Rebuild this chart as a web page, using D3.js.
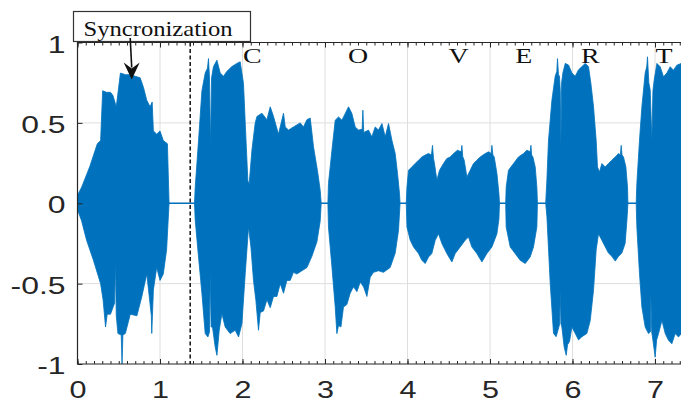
<!DOCTYPE html>
<html>
<head>
<meta charset="utf-8">
<script src="https://cdn.jsdelivr.net/npm/d3@7"></script>
<style>
  body { margin: 0; background: #fff; }
  svg { display: block; }
</style>
</head>
<body>
<svg id="chart" width="681" height="403"></svg>
<script>
var syncHi = [[0,0.05],[0.05,0.10],[0.15,0.23],[0.24,0.37],[0.28,0.39],[0.305,0.70],[0.35,0.69],[0.40,0.69],[0.43,0.67],[0.47,0.60],[0.52,0.81],[0.58,0.80],[0.64,0.80],[0.70,0.79],[0.76,0.78],[0.80,0.72],[0.84,0.64],[0.88,0.60],[0.905,0.63],[0.92,0.45],[0.96,0.43],[1.00,0.45],[1.04,0.39],[1.09,0.37],[1.11,0]];
var syncLo = [[0,-0.04],[0.05,-0.11],[0.11,-0.23],[0.19,-0.35],[0.28,-0.50],[0.31,-0.60],[0.34,-0.77],[0.36,-0.69],[0.40,-0.69],[0.45,-0.62],[0.46,-0.35],[0.47,-0.70],[0.49,-0.81],[0.53,-0.82],[0.54,-1.0],[0.55,-0.82],[0.58,-0.81],[0.64,-0.69],[0.72,-0.70],[0.78,-0.58],[0.84,-0.44],[0.895,-0.70],[0.90,-0.81],[0.92,-0.54],[0.96,-0.40],[1.00,-0.48],[1.04,-0.44],[1.08,-0.29],[1.11,0]];

var cHi = [[1.418,0],[1.427,0.10],[1.467,0.39],[1.508,0.70],[1.548,0.81],[1.575,0.84],[1.588,0.90],[1.60,0.78],[1.612,0.35],[1.625,0.78],[1.648,0.85],[1.69,0.89],[1.73,0.81],[1.77,0.79],[1.81,0.82],[1.871,0.85],[1.932,0.87],[1.972,0.88],[2.012,0.745],[2.033,0.50],[2.065,0.14],[2.081,0.12],[2.114,0.33],[2.154,0.50],[2.175,0.54],[2.235,0.56],[2.296,0.52],[2.336,0.60],[2.376,0.54],[2.436,0.43],[2.497,0.56],[2.518,0.475],[2.558,0.455],[2.618,0.475],[2.699,0.50],[2.739,0.475],[2.781,0.52],[2.821,0.53],[2.861,0.35],[2.914,0.185],[2.942,0.08],[2.954,0]];
var cLo = [[1.418,0],[1.427,-0.106],[1.467,-0.334],[1.508,-0.562],[1.548,-0.811],[1.581,-0.832],[1.600,-0.80],[1.608,-0.438],[1.62,-0.77],[1.636,-0.77],[1.669,-0.895],[1.69,-0.946],[1.718,-0.79],[1.75,-0.687],[1.79,-0.77],[1.85,-0.811],[1.911,-0.79],[1.952,-0.832],[1.993,-0.749],[2.033,-0.438],[2.073,-0.148],[2.102,-0.272],[2.133,-0.479],[2.162,-0.604],[2.194,-0.79],[2.215,-0.68],[2.255,-0.67],[2.296,-0.60],[2.336,-0.65],[2.376,-0.58],[2.417,-0.58],[2.457,-0.50],[2.497,-0.56],[2.538,-0.48],[2.578,-0.48],[2.618,-0.43],[2.659,-0.44],[2.72,-0.42],[2.781,-0.40],[2.841,-0.33],[2.902,-0.24],[2.942,-0.11],[2.954,0]];

var oHi = [[3.035,0],[3.042,0.123],[3.084,0.33],[3.124,0.517],[3.164,0.537],[3.205,0.517],[3.245,0.558],[3.285,0.60],[3.326,0.558],[3.366,0.475],[3.406,0.455],[3.45,0.46],[3.459,0.579],[3.47,0.44],[3.527,0.455],[3.568,0.413],[3.608,0.475],[3.648,0.455],[3.69,0.496],[3.73,0.413],[3.77,0.496],[3.811,0.392],[3.851,0.309],[3.879,0.185],[3.903,0.06],[3.91,0]];
var oLo = [[3.035,0],[3.042,-0.148],[3.084,-0.396],[3.124,-0.646],[3.144,-0.811],[3.164,-0.76],[3.193,-0.77],[3.224,-0.646],[3.265,-0.63],[3.305,-0.56],[3.345,-0.52],[3.387,-0.55],[3.427,-0.49],[3.467,-0.52],[3.508,-0.58],[3.548,-0.46],[3.588,-0.43],[3.648,-0.42],[3.709,-0.43],[3.79,-0.40],[3.851,-0.31],[3.891,-0.17],[3.91,0]];

var vHi = [[3.985,0],[3.993,0.10],[4.012,0.205],[4.053,0.226],[4.093,0.247],[4.134,0.268],[4.174,0.288],[4.215,0.30],[4.255,0.31],[4.29,0.30],[4.303,0.36],[4.315,0.28],[4.327,0.247],[4.356,0.143],[4.388,0.205],[4.436,0.247],[4.477,0.278],[4.518,0.288],[4.558,0.309],[4.606,0.33],[4.65,0.32],[4.659,0.36],[4.67,0.29],[4.687,0.268],[4.72,0.164],[4.76,0.205],[4.80,0.247],[4.841,0.268],[4.881,0.288],[4.942,0.309],[4.982,0.32],[5.015,0.31],[5.023,0.36],[5.035,0.30],[5.051,0.288],[5.084,0.185],[5.108,0.06],[5.115,0]];
var vLo = [[3.985,0],[3.993,-0.148],[4.033,-0.23],[4.073,-0.272],[4.134,-0.313],[4.174,-0.355],[4.215,-0.375],[4.255,-0.334],[4.295,-0.313],[4.336,-0.23],[4.376,-0.19],[4.417,-0.251],[4.477,-0.313],[4.538,-0.365],[4.578,-0.313],[4.639,-0.272],[4.699,-0.23],[4.739,-0.21],[4.78,-0.272],[4.841,-0.313],[4.902,-0.365],[4.962,-0.313],[5.023,-0.272],[5.084,-0.19],[5.108,-0.1],[5.115,0]];

var eHi = [[5.19,0],[5.196,0.10],[5.224,0.205],[5.285,0.247],[5.345,0.288],[5.406,0.309],[5.447,0.33],[5.487,0.32],[5.496,0.36],[5.505,0.30],[5.52,0.288],[5.548,0.226],[5.568,0.10],[5.575,0]];
var eLo = [[5.19,0],[5.196,-0.148],[5.245,-0.272],[5.305,-0.313],[5.366,-0.355],[5.427,-0.375],[5.487,-0.334],[5.527,-0.272],[5.568,-0.148],[5.575,0]];

var rHi = [[5.675,0],[5.69,0.15],[5.709,0.39],[5.75,0.64],[5.79,0.79],[5.81,0.82],[5.818,0.90],[5.83,0.80],[5.842,0.79],[5.852,0.70],[5.859,0.35],[5.868,0.75],[5.883,0.81],[5.912,0.87],[5.952,0.86],[5.993,0.81],[6.033,0.79],[6.073,0.83],[6.114,0.85],[6.154,0.87],[6.194,0.85],[6.223,0.745],[6.255,0.60],[6.287,0.39],[6.303,0.226],[6.327,0.195],[6.356,0.247],[6.396,0.226],[6.436,0.247],[6.477,0.268],[6.518,0.288],[6.558,0.309],[6.58,0.30],[6.59,0.36],[6.60,0.30],[6.618,0.288],[6.647,0.226],[6.667,0.10],[6.672,0]];
var rLo = [[5.675,0],[5.69,-0.085],[5.73,-0.50],[5.77,-0.81],[5.802,-0.83],[5.845,-0.75],[5.851,-0.54],[5.86,-0.75],[5.871,-0.77],[5.899,-0.895],[5.924,-0.946],[5.94,-0.88],[5.964,-0.86],[5.993,-0.77],[6.033,-0.81],[6.073,-0.85],[6.114,-0.83],[6.174,-0.81],[6.215,-0.73],[6.255,-0.54],[6.287,-0.29],[6.315,-0.19],[6.356,-0.23],[6.396,-0.27],[6.436,-0.31],[6.477,-0.33],[6.518,-0.36],[6.558,-0.33],[6.598,-0.31],[6.638,-0.25],[6.659,-0.11],[6.672,0]];

var tHi = [[6.772,0],[6.78,0.123],[6.812,0.392],[6.841,0.60],[6.881,0.81],[6.90,0.85],[6.909,0.911],[6.925,0.75],[6.942,0.704],[6.955,0.50],[6.962,0.392],[6.975,0.70],[6.99,0.766],[7.023,0.87],[7.063,0.849],[7.103,0.787],[7.144,0.81],[7.184,0.849],[7.224,0.828],[7.265,0.859],[7.318,0.87],[7.4,0.85],[7.5,0.86]];
var tLo = [[6.772,0],[6.78,-0.148],[6.812,-0.438],[6.841,-0.646],[6.881,-0.77],[6.921,-0.811],[6.945,-0.80],[6.95,-0.562],[6.96,-0.80],[6.975,-0.853],[7.002,-0.957],[7.02,-0.85],[7.043,-0.811],[7.084,-0.729],[7.124,-0.811],[7.164,-0.853],[7.204,-0.874],[7.245,-0.811],[7.285,-0.832],[7.318,-0.811],[7.4,-0.83],[7.5,-0.82]];

var letters = ["C", "O", "V", "E", "R", "T"];
var letterTimes = [2.12, 3.40, 4.62, 5.41, 6.215, 7.11];
var xTicks = [0, 1, 2, 3, 4, 5, 6, 7];
var yTicks = [-1, -0.5, 0, 0.5, 1];
var syncTime = 1.366;
var syncLabel = "Syncronization";
var arrowTip = [0.657, 0.77];

var blue = "#0072bd";
var axisCol = "#262626";
var stretch = 1.33; // picture is wider than tall, text too

var svg = d3.select("#chart");
var x = d3.scaleLinear().domain([0, 7.5]).range([77.5, 77.5 + 7.5 * 82.5]);
var y = d3.scaleLinear().domain([-1, 1]).range([364, 42.5]);

// grid
svg.append("g").selectAll("line").data(xTicks.slice(1)).enter().append("line")
    .attr("x1", function(d){ return x(d); }).attr("x2", function(d){ return x(d); })
    .attr("y1", y(1)).attr("y2", y(-1))
    .attr("stroke", "#dedede").attr("stroke-width", 1);
svg.append("g").selectAll("line").data([-0.5, 0, 0.5]).enter().append("line")
    .attr("x1", x(0)).attr("x2", 681)
    .attr("y1", function(d){ return y(d); }).attr("y2", function(d){ return y(d); })
    .attr("stroke", "#dedede").attr("stroke-width", 1);

// silent parts sit on zero
svg.append("line")
    .attr("x1", x(0)).attr("x2", x(7.5))
    .attr("y1", y(0)).attr("y2", y(0))
    .attr("stroke", blue).attr("stroke-width", 1.5);

// waveform bursts
var bursts = [[syncHi, syncLo], [cHi, cLo], [oHi, oLo], [vHi, vLo], [eHi, eLo], [rHi, rLo], [tHi, tLo]];
var line = d3.line()
    .x(function(d){ return x(d[0]); })
    .y(function(d){ return y(d[1]); });
svg.append("g").selectAll("path").data(bursts).enter().append("path")
    .attr("d", function(b){ return line(b[0].concat(b[1].slice().reverse())) + "Z"; })
    .attr("fill", blue)
    .attr("stroke", blue)
    .attr("stroke-width", 0.8)
    .attr("stroke-linejoin", "miter");

// frame + ticks
var minor = d3.range(0, 75).map(function(i){ return i / 10; });
svg.append("g").attr("transform", "translate(0," + y(-1) + ")")
    .call(d3.axisTop(x).tickValues(minor).tickSize(3).tickFormat(""))
    .call(function(g){ g.select(".domain").remove(); });
svg.append("g").attr("transform", "translate(0," + y(1) + ")")
    .call(d3.axisBottom(x).tickValues(minor).tickSize(3).tickFormat(""))
    .call(function(g){ g.select(".domain").remove(); });
svg.append("g").attr("transform", "translate(0," + y(-1) + ")")
    .call(d3.axisTop(x).tickValues(xTicks).tickSize(5).tickFormat(""))
    .call(function(g){ g.select(".domain").remove(); });
svg.append("g").attr("transform", "translate(0," + y(1) + ")")
    .call(d3.axisBottom(x).tickValues(xTicks).tickSize(5).tickFormat(""))
    .call(function(g){ g.select(".domain").remove(); });
svg.append("g").attr("transform", "translate(" + x(0) + ",0)")
    .call(d3.axisRight(y).tickValues(yTicks).tickSize(5).tickFormat(""))
    .call(function(g){ g.select(".domain").remove(); });
svg.selectAll(".tick line").attr("stroke", axisCol);

svg.append("path")
    .attr("d", "M681," + y(1) + "H" + x(0) + "V" + y(-1) + "H681")
    .attr("fill", "none").attr("stroke", axisCol).attr("stroke-width", 1.2);

// tick labels
var xl = svg.append("g").attr("transform", "translate(0," + y(-1) + ")")
    .call(d3.axisBottom(x).tickValues(xTicks).tickSize(0).tickPadding(18).tickFormat(d3.format("d")));
var yl = svg.append("g").attr("transform", "translate(" + x(0) + ",0)")
    .call(d3.axisLeft(y).tickValues(yTicks).tickSize(0).tickPadding(9).tickFormat(function(d){ return String(d).replace("\u2212", "-"); }));
[xl, yl].forEach(function(g){
    g.select(".domain").remove();
    g.selectAll("text")
        .attr("font-family", "'Liberation Sans', Arial, sans-serif")
        .attr("font-size", 23)
        .attr("fill", axisCol)
        .attr("transform", "scale(" + stretch + ",1)");
});
yl.selectAll("text").attr("font-size", 24).attr("dy", "0.4em");

// sync marker
svg.append("line")
    .attr("x1", x(syncTime)).attr("x2", x(syncTime))
    .attr("y1", y(1)).attr("y2", y(-1))
    .attr("stroke", "#111").attr("stroke-width", 1.5)
    .attr("stroke-dasharray", "4,2.5");

// letters
svg.append("g").selectAll("text").data(letters).enter().append("text")
    .attr("transform", function(d, i){ return "translate(" + x(letterTimes[i]) + ",63) scale(" + stretch + ",1)"; })
    .attr("text-anchor", "middle")
    .attr("font-family", "'Liberation Serif', 'Times New Roman', serif")
    .attr("font-size", 21)
    .attr("fill", "#111")
    .text(function(d){ return d; });

// annotation box + arrow
svg.append("rect")
    .attr("x", 73.5).attr("y", 11.5).attr("width", 177).attr("height", 30)
    .attr("fill", "#fff").attr("stroke", "#333").attr("stroke-width", 1.2);
svg.append("text")
    .attr("x", 83.5).attr("y", 35.5)
    .attr("font-family", "'Liberation Serif', 'Times New Roman', serif")
    .attr("font-size", 21)
    .attr("textLength", 149).attr("lengthAdjust", "spacingAndGlyphs")
    .attr("fill", "#111")
    .text(syncLabel);
var tipX = x(arrowTip[0]), tipY = y(arrowTip[1]);
svg.append("line")
    .attr("x1", tipX - 1.5).attr("y1", 38)
    .attr("x2", tipX).attr("y2", tipY - 12)
    .attr("stroke", "#111").attr("stroke-width", 1.6);
svg.append("path")
    .attr("d", "M" + tipX + "," + tipY + "L" + (tipX - 8) + "," + (tipY - 17) + "L" + tipX + "," + (tipY - 11) + "L" + (tipX + 8) + "," + (tipY - 17) + "Z")
    .attr("fill", "#111");
</script>
</body>
</html>
